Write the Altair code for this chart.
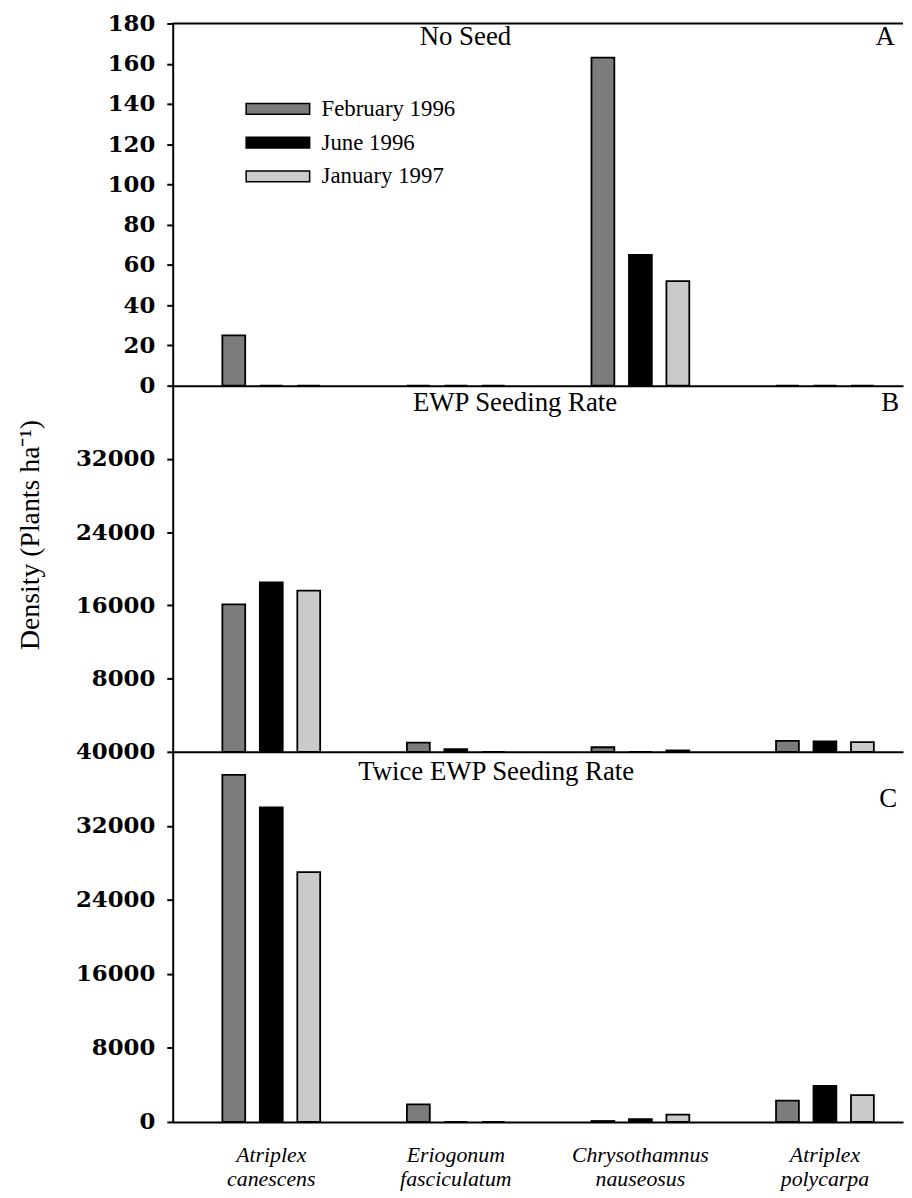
import altair as alt
import pandas as pd

species = ["Atriplex canescens", "Eriogonum fasciculatum",
           "Chrysothamnus nauseosus", "Atriplex polycarpa"]
dates = ["February 1996", "June 1996", "January 1997"]

# Panel A: No Seed (plants/ha)
A_feb = [25, 0, 163, 0]
A_jun = [0, 0, 65, 0]
A_jan = [0, 0, 52, 0]
# Panel B: EWP seeding rate
B_feb = [16100, 1000, 500, 1200]
B_jun = [18500, 300, 0, 1150]
B_jan = [17600, 0, 150, 1050]
# Panel C: Twice EWP seeding rate
C_feb = [37500, 1900, 100, 2300]
C_jun = [34000, 0, 300, 3900]
C_jan = [27000, 0, 800, 2900]

ticks_A = [0, 20, 40, 60, 80, 100, 120, 140, 160, 180]
ticks_B = [8000, 16000, 24000, 32000]
ticks_C = [0, 8000, 16000, 24000, 32000, 40000]

panel_titles = ["No Seed", "EWP Seeding Rate", "Twice EWP Seeding Rate"]
panel_letters = ["A", "B", "C"]
y_title = "Density (Plants ha\u207b\u00b9)"

bar_colors = ["#7c7c7c", "#000000", "#cacaca"]

SERIF = "Liberation Serif"
NUMF = "DejaVu Serif"
W = 736


def make_table(feb, jun, jan):
    rows = []
    for d, vals in zip(dates, [feb, jun, jan]):
        for s, v in zip(species, vals):
            rows.append({"species": s, "date": d, "density": v})
    return pd.DataFrame(rows)


def text_layer(txt, x, y, size=27):
    return alt.Chart(pd.DataFrame({"t": [txt]})).mark_text(
        font=SERIF, fontSize=size, color="black", align="center", baseline="middle"
    ).encode(text="t:N", x=alt.value(x), y=alt.value(y))


def panel(feb, jun, jan, height, ymax, yvals, idx, title_xy, letter_xy,
          bottom=False, with_title=False, legend=None):
    df = make_table(feb, jun, jan)
    if bottom:
        xaxis = alt.Axis(title=None, labelExpr="split(datum.label, ' ')",
                         labelFont=SERIF, labelFontStyle="italic", labelFontSize=22,
                         labelLineHeight=24, labelColor="black", labelPadding=23,
                         labelAngle=0, ticks=False, domainColor="black", domainWidth=2)
    else:
        xaxis = alt.Axis(title=None, labels=False, ticks=False,
                         domainColor="black", domainWidth=2)
    ykw = dict(values=yvals, format="d", labelFont=NUMF, labelFontWeight="bold",
               labelFontSize=23, labelColor="black", labelPadding=12,
               tickSize=6, tickWidth=2, tickColor="black",
               domainColor="black", domainWidth=2, grid=False)
    if with_title:
        ykw.update(title=y_title, titleFont=SERIF, titleFontSize=28,
                   titleFontWeight="normal", titleColor="black", titlePadding=31,
                   titleY=150)
    else:
        ykw.update(title=None)
    color_kw = dict(scale=alt.Scale(domain=dates, range=bar_colors), sort=dates)
    if legend is None:
        color = alt.Color("date:N", legend=None, **color_kw)
    else:
        color = alt.Color("date:N", legend=legend, **color_kw)
    bars = alt.Chart(df).mark_bar(stroke="black", strokeWidth=1.8).encode(
        x=alt.X("species:N", sort=species,
                scale=alt.Scale(paddingInner=0.47, paddingOuter=0.2135, align=0.63),
                axis=xaxis),
        xOffset=alt.XOffset("date:N", sort=dates,
                            scale=alt.Scale(paddingInner=0.39, paddingOuter=0)),
        y=alt.Y("density:Q", scale=alt.Scale(domain=[0, ymax], nice=False),
                axis=alt.Axis(**ykw)),
        color=color,
    )
    layers = [bars,
              text_layer(panel_titles[idx], *title_xy),
              text_layer(panel_letters[idx], *letter_xy)]
    if idx == 0:
        layers.append(
            alt.Chart(pd.DataFrame({"v": [0]})).mark_rule(color="black", strokeWidth=2)
            .encode(y=alt.value(0), x=alt.value(0), x2=alt.value(W))
        )
    return alt.layer(*layers).properties(width=W, height=height)


legend = alt.Legend(orient="none", legendX=89, legendY=69, title=None,
                    symbolType="M-2,-0.34H2V0.34H-2Z", symbolSize=1024,
                    symbolStrokeColor="black", symbolStrokeWidth=1.5,
                    labelFont=SERIF, labelFontSize=23, labelColor="black",
                    labelOffset=27, rowPadding=5, padding=0, labelLimit=300)

pA = panel(A_feb, A_jun, A_jan, 365, 180, ticks_A, 0, (295, 14), (718, 14), legend=legend)
pB = panel(B_feb, B_jun, B_jan, 369, 40000, ticks_B, 1, (345, 18), (723, 18), with_title=True)
pC = panel(C_feb, C_jun, C_jan, 373, 40000, ticks_C, 2, (326, 20), (721, 48), bottom=True)

chart = (
    alt.vconcat(pA, pB, pC, spacing=0, bounds="flush")
    .resolve_scale(y="independent", x="independent", color="independent")
    .resolve_legend(color="independent")
    .properties(padding={"left": 8, "top": 0, "right": 0, "bottom": 0})
    .configure_view(stroke=None)
)

chart.save("out.html", embed_options={"renderer": "svg", "actions": False})
